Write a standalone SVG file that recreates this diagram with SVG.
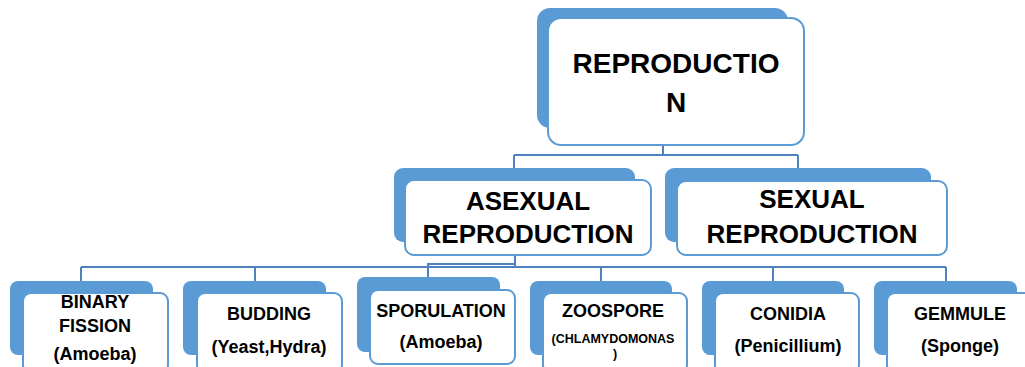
<svg xmlns="http://www.w3.org/2000/svg" width="1025" height="367" viewBox="0 0 1025 367">
<style>
.back{fill:#5B9BD5;}
.front{fill:#FFFFFF;stroke:#5B9BD5;stroke-width:2;}
.conn{fill:none;stroke:#4F81BD;stroke-width:2;}
text{font-family:"Liberation Sans",Arial,sans-serif;font-weight:bold;fill:#000;text-anchor:middle;}
.t1{font-size:28px;}
.t2{font-size:26px;}
.t3{font-size:18px;}
.t4{font-size:12.5px;}
</style>
<rect width="1025" height="367" fill="#FFFFFF"/>
<g id="connectors">
<path class="conn" d="M663,145 V155 M514,155 H798 M514,155 V170 M798,155 V170"/>
<path class="conn" d="M515,255 V267 M81,267 H946 M81,267 V283 M255,267 V283 M601,267 V283 M773,267 V283 M946,267 V283 M515,264 H428 V279"/>
</g>
<g id="reproduction">
<rect class="back" x="537" y="8" width="251" height="120" rx="13"/>
<rect class="front" x="548" y="18" width="256" height="127" rx="13"/>
<text class="t1" x="676" y="73">REPRODUCTIO</text>
<text class="t1" x="676" y="112">N</text>
</g>
<g id="asexual">
<rect class="back" x="394" y="168" width="241" height="74" rx="9"/>
<rect class="front" x="405" y="180" width="246" height="75" rx="9"/>
<text class="t2" x="528" y="210">ASEXUAL</text>
<text class="t2" x="528" y="243">REPRODUCTION</text>
</g>
<g id="sexual">
<rect class="back" x="665" y="168" width="266" height="74" rx="9"/>
<rect class="front" x="677" y="181" width="270" height="74" rx="9"/>
<text class="t2" x="812" y="208">SEXUAL</text>
<text class="t2" x="812" y="243">REPRODUCTION</text>
</g>
<g id="binary-fission">
<rect class="back" x="10" y="281" width="143" height="74" rx="8"/>
<rect class="front" x="23" y="293" width="145" height="80" rx="8"/>
<text class="t3" x="95" y="308">BINARY</text>
<text class="t3" x="95" y="332">FISSION</text>
<text class="t3" x="95" y="360">(Amoeba)</text>
</g>
<g id="budding">
<rect class="back" x="183" y="281" width="143" height="74" rx="8"/>
<rect class="front" x="197" y="293" width="145" height="80" rx="8"/>
<text class="t3" x="269" y="320">BUDDING</text>
<text class="t3" x="269" y="353">(Yeast,Hydra)</text>
</g>
<g id="sporulation">
<rect class="back" x="357" y="277" width="143" height="75" rx="8"/>
<rect class="front" x="370" y="290" width="145" height="74" rx="8"/>
<text class="t3" x="441" y="317">SPORULATION</text>
<text class="t3" x="441" y="348">(Amoeba)</text>
</g>
<g id="zoospore">
<rect class="back" x="530" y="281" width="142" height="74" rx="8"/>
<rect class="front" x="543" y="293" width="144" height="80" rx="8"/>
<text class="t3" x="613" y="317">ZOOSPORE</text>
<text class="t4" x="613" y="343">(CHLAMYDOMONAS</text>
<text class="t4" x="615" y="358">)</text>
</g>
<g id="conidia">
<rect class="back" x="702" y="281" width="142" height="74" rx="8"/>
<rect class="front" x="715" y="293" width="144" height="80" rx="8"/>
<text class="t3" x="788" y="320">CONIDIA</text>
<text class="t3" x="788" y="352">(Penicillium)</text>
</g>
<g id="gemmule">
<rect class="back" x="874" y="281" width="143" height="74" rx="8"/>
<rect class="front" x="887" y="293" width="145" height="80" rx="8"/>
<text class="t3" x="960" y="320">GEMMULE</text>
<text class="t3" x="960" y="352">(Sponge)</text>
</g>
</svg>
